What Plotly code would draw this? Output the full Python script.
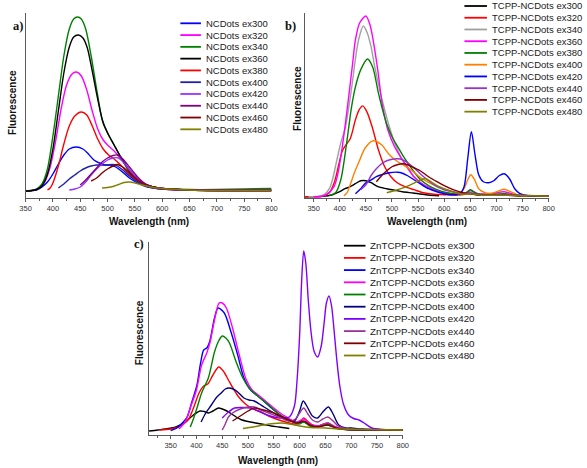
import plotly.graph_objects as go

# ---------------- DATA (wavelength nm, relative fluorescence) ----------------
EX_TAGS = ["ex300", "ex320", "ex340", "ex360", "ex380", "ex400", "ex420", "ex440", "ex460", "ex480"]

# Panel a) NCDots
a_ex300 = [(350,0),(360,0.3),(370,1),(380,4),(390,9),(400,17),(410,27),(420,36),(430,42),(443,44),(455,42),(465,37),(475,31),(485,28),(495,26),(505,26),(515,24),(525,20),(540,13),(555,8),(570,4.5),(600,2),(650,1),(700,1),(800,1.5)]
a_ex320 = [(350,0),(365,1),(375,3),(385,9),(395,24),(405,50),(415,82),(425,106),(435,117),(443,119),(452,115),(462,101),(472,80),(482,62),(492,51),(502,45),(512,40),(522,34),(532,27),(545,18),(560,10),(580,4.5),(600,2.5),(650,1),(700,1),(800,1.5)]
a_ex340 = [(350,0),(360,0.5),(370,2),(380,7),(390,22),(400,55),(410,95),(420,135),(430,162),(438,172),(445,174),(452,172),(460,162),(470,135),(480,102),(490,72),(500,58),(510,48),(520,38),(530,28),(540,19),(550,13),(560,9),(575,5),(600,2.5),(650,1.5),(700,1.5),(750,2),(800,2.5)]
a_ex360 = [(350,0),(360,0.3),(370,1.5),(380,5),(390,17),(400,42),(410,80),(420,118),(430,144),(438,154),(447,156),(455,153),(463,143),(472,120),(482,92),(492,68),(502,56),(512,46),(522,36),(532,27),(542,19),(552,13),(562,9),(577,5),(600,2.5),(650,1),(700,0.5),(800,0.5)]
a_ex380 = [(390,1),(395,3),(400,8),(410,25),(420,47),(430,65),(440,75),(452,79),(462,76),(472,65),(482,52),(492,42),(502,36),(512,32),(522,27),(532,21),(545,14),(560,8),(580,4),(600,2),(650,1),(700,0.5),(800,0.5)]
a_ex400 = [(410,3),(420,7),(430,12),(440,16),(450,20),(460,23),(470,25),(480,26),(490,26),(500,26),(510,26.5),(518,25),(528,21),(540,15),(555,9),(570,5),(600,2),(650,1),(700,0.5),(800,0.5)]
a_ex420 = [(430,1),(440,2),(450,4),(460,9),(470,16),(480,22),(490,27),(500,31),(510,33),(520,33),(530,28),(540,21),(555,12),(570,6),(600,2.5),(650,1),(700,0.5),(800,0.5)]
a_ex440 = [(450,6),(460,11),(470,17),(480,23),(490,29),(500,33),(510,35.5),(518,36),(528,32),(540,24),(555,14),(570,7),(600,2.5),(650,1),(700,0.5),(800,0.5)]
a_ex460 = [(470,10),(480,13),(490,18),(500,22),(510,25),(518,26.5),(528,24),(540,18),(555,11),(570,6),(600,2.5),(650,1),(700,0.5),(800,0.5)]
a_ex480 = [(490,3),(500,3.5),(510,4.5),(520,6.5),(530,8.5),(540,9),(550,8),(560,6.5),(575,4.5),(600,2.5),(650,1),(700,0.5),(800,0.5)]

# Panel b) TCPP-NCDots
b_ex300 = [(333,0),(367,0.3),(386,2),(400,5),(410,8),(420,10),(430,13),(440,16),(450,16),(460,14),(473,10),(490,8),(505,6.5),(520,5),(540,3.7),(565,2),(590,1)]
b_ex320 = [(333,0),(350,0),(366,0.3),(380,4),(390,15),(398,32),(405,46),(412,52),(420,58),(430,77),(437,87),(444,91),(452,85),(462,70),(474,47),(486,30),(498,20),(510,14),(525,10),(542,7),(560,4),(580,2.5),(600,2),(625,1.5),(650,3),(670,1.5),(715,2),(750,0.5),(800,0.5)]
b_ex340 = [(340,0),(360,0.5),(370,2),(380,8),(386,17),(395,38),(402,54),(411,70),(418,92),(424,114),(430,138),(436,157),(445,171),(452,165),(460,150),(467,130),(477,106),(486,87),(495,70),(505,54),(515,42),(525,32),(540,21),(555,14),(570,9),(590,5),(610,3),(630,2),(650,4),(670,1.5),(715,3),(750,0.5),(800,0.5)]
b_ex360 = [(350,0),(365,0.5),(374,2),(389,10),(396,22),(402,40),(410,70),(418,104),(425,135),(430,157),(438,174),(450,181),(458,172),(467,147),(474,122),(480,97),(486,80),(492,67),(505,50),(515,41),(524,34),(533,27),(542,20),(555,14),(567,10),(585,6),(600,4),(620,3),(635,2.5),(650,6),(665,3),(690,3),(715,5),(740,1.5),(800,0.5)]
b_ex380 = [(380,1),(392,4),(402,17),(414,57),(422,88),(430,110),(440,127),(453,138),(463,130),(474,104),(483,85),(492,70),(502,58),(511,50),(520,42),(530,34),(542,25),(555,17),(570,11),(586,7),(605,4),(625,2.5),(640,3),(650,7),(662,3),(690,2),(715,3),(740,1),(800,0.5)]
b_ex400 = [(408,1),(414,4),(420,12),(428,24),(436,34),(449,49),(464,56),(480,52),(495,42),(511,35),(524,31),(536,27),(550,21),(567,15),(583,11),(598,8),(617,5),(630,4),(638,8),(645,17),(651,22),(658,17),(666,8),(678,4),(690,3.5),(703,5.5),(715,7.5),(727,5),(740,2),(760,0.5),(800,0.5)]
b_ex420 = [(430,3),(440,8),(450,14),(461,17),(470,20),(480,22),(495,24),(511,24.5),(520,23.5),(530,21),(542,17),(554,13),(570,8),(586,5),(605,2.5),(620,2),(630,3),(638,10),(645,38),(652,65),(659,42),(666,22),(675,15),(685,14),(695,16),(705,21),(715,23),(725,18),(735,8),(745,3),(760,1),(800,0.5)]
b_ex440 = [(440,7),(450,12),(461,22),(470,28),(480,33),(490,36),(500,37.5),(511,38),(520,37),(530,34),(542,29),(554,23),(570,16),(586,10),(600,7),(617,5),(635,3),(650,4),(665,2),(715,2),(800,0.5)]
b_ex460 = [(470,15),(480,21),(490,26),(500,30),(510,32),(520,33),(530,32),(542,29),(554,26),(570,20),(586,15),(600,11),(617,7),(635,4),(650,3),(670,1.5),(715,1.5),(800,0.5)]
b_ex480 = [(490,4),(505,6),(523,9),(540,13),(555,17),(565,18),(575,15),(590,10),(605,7),(620,4),(635,2.5),(650,3),(670,1.5),(715,1.5),(800,0.5)]

# Panel c) ZnTCPP-NCDots
c_ex300 = [(308,0),(325,1),(340,2),(360,4),(378,9),(394,16),(407,20),(415,19.5),(423,18),(432,20),(443,23),(455,21),(467,17.5),(477,14),(486,11.5),(500,9.5),(515,8),(531,6.5),(545,5),(560,4),(580,2.5)]
c_ex320 = [(328,1),(350,2),(365,4),(375,7),(385,12),(395,24),(405,38),(414,45),(422,47),(432,56),(443,64),(452,60),(462,51),(472,42),(482,34),(495,27),(510,22),(525,19),(540,15),(560,11),(580,8),(595,7),(603,10),(608,13),(615,10),(625,6),(635,5),(647,7),(655,8),(665,5),(680,2.5),(700,1.5),(800,1)]
c_ex340 = [(350,0.5),(362,3),(372,7.7),(382,14),(391,29),(401,46),(408,68),(414,81),(420,83),(426,90),(435,113),(442,123),(454,118),(467,99),(480,76),(492,53),(505,41),(524,33),(543,24),(568,14),(594,8),(608,9),(630,5),(655,6),(680,2),(700,1.5),(800,1)]
c_ex360 = [(366,2),(378,9),(388,23),(400,41),(410,66),(420,78),(427,90),(433,106),(444,128),(450,128),(458,123),(470,103),(483,76),(496,52),(508,41),(527,33),(543,26),(568,16),(594,9),(608,12),(620,7),(635,5),(655,8),(670,4),(690,2),(800,1)]
c_ex380 = [(388,4),(394,12),(401,23),(410,38),(423,53),(435,79),(443,90),(450,95),(457,93),(464,88),(477,69),(490,53),(502,43),(521,34),(540,26),(562,16),(588,9),(600,7),(608,9),(620,5),(635,4),(655,7),(670,3),(690,1.5),(800,1)]
c_ex400 = [(409,9),(418,18),(429,26),(438,33),(448,38),(456,42),(463,43),(471,42),(480,39),(492,33),(502,31),(512,30),(522,27),(531,24),(550,18),(575,11),(590,10),(600,20),(607,30),(615,24),(625,15),(635,13),(645,19),(656,24),(665,17),(676,6),(690,3),(700,3),(720,2),(800,1)]
c_ex420 = [(450,13),(460,18),(474,23),(490,23.5),(505,23),(520,20),(537,16),(555,13.5),(569,13),(580,14),(590,25),(595,50),(600,95),(604,150),(608,180),(612,168),(617,130),(622,100),(628,80),(635,74),(642,85),(648,110),(652,128),(657,135),(662,125),(667,100),(672,72),(678,45),(685,27),(695,16),(705,12.5),(715,11),(725,8),(740,3),(760,1.5),(800,1)]
c_ex440 = [(450,1),(455,6),(462,14),(470,18),(485,22),(500,24),(512,24),(525,21),(540,18),(560,14),(580,10),(592,12),(600,18),(608,23),(616,17),(625,11),(635,9),(645,12),(655,14),(665,10),(675,5),(690,2.5),(720,1.5),(800,1)]
c_ex460 = [(470,10),(485,15),(500,20),(512,23),(530,21),(550,18),(575,12),(595,8),(608,10),(620,6),(635,4),(655,6),(670,3),(690,1.5),(800,1)]
c_ex480 = [(490,2.5),(510,4),(530,6),(550,7.5),(565,8),(580,7),(600,5),(620,3.5),(650,3),(680,2),(720,1.5),(800,1)]

A_SERIES = [a_ex300, a_ex320, a_ex340, a_ex360, a_ex380, a_ex400, a_ex420, a_ex440, a_ex460, a_ex480]
B_SERIES = [b_ex300, b_ex320, b_ex340, b_ex360, b_ex380, b_ex400, b_ex420, b_ex440, b_ex460, b_ex480]
C_SERIES = [c_ex300, c_ex320, c_ex340, c_ex360, c_ex380, c_ex400, c_ex420, c_ex440, c_ex460, c_ex480]

A_COLORS = ["#0000FF", "#FF00FF", "#008000", "#000000", "#FF0000", "#2222A8", "#9B30FF", "#800080", "#800000", "#808000"]
B_COLORS = ["#000000", "#FF0000", "#A0A0A0", "#FF00FF", "#008000", "#FF8000", "#0000FF", "#9932CC", "#800000", "#808000"]
C_COLORS = ["#000000", "#FF0000", "#0000FF", "#FF00FF", "#008000", "#000080", "#8000FF", "#993399", "#800000", "#808000"]

A_PREFIX = "NCDots"
B_PREFIX = "TCPP-NCDots"
C_PREFIX = "ZnTCPP-NCDots"

X_TICKS = [350, 400, 450, 500, 550, 600, 650, 700, 750, 800]

# ---------------- LAYOUT ----------------
W, H = 587, 468
def px(x): return x / W
def py(y): return 1 - y / H

SANS = "Liberation Sans, Arial, sans-serif"
SERIF = "Liberation Serif, Times New Roman, serif"

fig = go.Figure()

panels = [
    ("x",  "y",  A_SERIES, A_COLORS, A_PREFIX, (20, 271), (198, 13), [350, 800], [-7, 178], (178, 199, 202, 23.3, 11.78, 9.5)),
    ("x2", "y2", B_SERIES, B_COLORS, B_PREFIX, (305, 554), (198, 13), [333, 800], [-1.3, 184], (468, 491, 494, 6.0, 11.74, 9.5)),
    ("x3", "y3", C_SERIES, C_COLORS, C_PREFIX, (146, 405), (435, 242), [308, 800], [-4, 189], (345, 367, 370, 245.7, 12.2, 9.8)),
]

shapes = []
annotations = []
axis_line = "#5a5a5a"

for k, (xa, ya, series, colors, prefix, xd, yd, xr, yr, leg) in enumerate(panels):
    for tag, s, col in zip(EX_TAGS, series, colors):
        fig.add_trace(go.Scatter(
            x=[p[0] for p in s], y=[p[1] for p in s],
            mode="lines", line=dict(color=col, width=1.4, shape="spline", smoothing=0.8),
            name=f"{prefix} {tag}", xaxis=xa, yaxis=ya, showlegend=False, hoverinfo="skip"))
    suffix = "" if k == 0 else str(k + 1)
    fig.layout["xaxis" + suffix] = dict(
        domain=[px(xd[0]), px(xd[1])], range=xr, anchor=ya,
        showline=True, linecolor=axis_line, linewidth=1, mirror=False,
        ticks="outside", ticklen=3, tickcolor=axis_line, tickwidth=1,
        tickvals=X_TICKS, tickfont=dict(family=SANS, size=7.5, color="#333333"),
        showgrid=False, zeroline=False,
        minor=dict(ticks="outside", ticklen=2, tickcolor=axis_line, dtick=25, tick0=350, showgrid=False))
    fig.layout["yaxis" + suffix] = dict(
        domain=[py(yd[0]), py(yd[1])], range=yr, anchor=xa,
        showline=True, linecolor=axis_line, linewidth=1,
        ticks="", showticklabels=False, showgrid=False, zeroline=False)
    lx0, lx1, tx, ly0, ldy, lfs = leg
    for i, (tag, col) in enumerate(zip(EX_TAGS, colors)):
        yy = ly0 + i * ldy
        shapes.append(dict(type="line", xref="paper", yref="paper",
                           x0=px(lx0), x1=px(lx1), y0=py(yy), y1=py(yy),
                           line=dict(color=col, width=1.8)))
        annotations.append(dict(text=f"{prefix} {tag}", xref="paper", yref="paper",
                                x=px(tx), y=py(yy), xanchor="left", yanchor="middle",
                                showarrow=False, font=dict(family=SANS, size=lfs, color="#1a1a1a")))

def title(text, x, y, angle=0):
    annotations.append(dict(text=f"<b>{text}</b>", xref="paper", yref="paper", x=px(x), y=py(y),
                            xanchor="center", yanchor="middle", showarrow=False, textangle=angle,
                            font=dict(family=SANS, size=10, color="#111111")))

title("Wavelength (nm)", 145.5, 221)
title("Wavelength (nm)", 430, 221)
title("Wavelength (nm)", 278, 460)
title("Fluorescence", 6, 102, -90)
title("Fluorescence", 297, 98, -90)
title("Fluorescence", 136, 333, -90)

for lab, x, y in [("a)", 12.5, 26), ("b)", 290, 26), ("c)", 135.5, 244.3)]:
    annotations.append(dict(text=f"<b>{lab}</b>", xref="paper", yref="paper", x=px(x), y=py(y),
                            xanchor="center", yanchor="middle", showarrow=False,
                            font=dict(family=SERIF, size=12.5, color="#111111")))

fig.update_layout(width=W, height=H, margin=dict(l=0, r=0, t=0, b=0),
                  paper_bgcolor="white", plot_bgcolor="white",
                  shapes=shapes, annotations=annotations, showlegend=False)

fig.write_html("out.html",
               config={"displayModeBar": False, "staticPlot": True},
               post_script="document.body.style.margin='0';document.body.style.padding='0';"
                           "document.documentElement.style.overflow='hidden';")
